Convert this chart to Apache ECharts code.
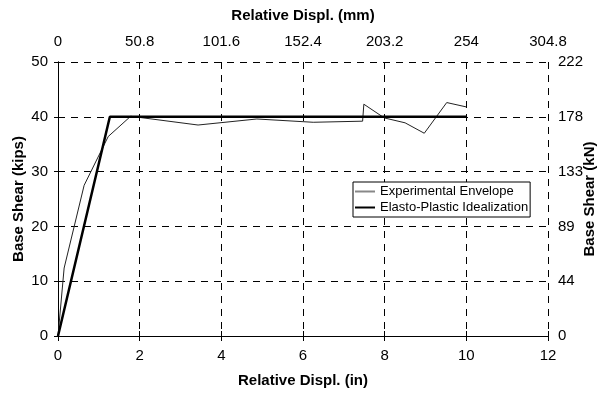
<!DOCTYPE html>
<html>
<head>
<meta charset="utf-8">
<script src="https://cdn.jsdelivr.net/npm/echarts@6/dist/echarts.min.js"></script>
<style>
  html, body { margin: 0; padding: 0; background: #fff; }
  #chart { width: 606px; height: 393px; }
</style>
</head>
<body>
<div id="chart"></div>
<script>
// displacement (in) vs base shear (kips)
const expDispl = [0, 0.15, 0.64, 1.23, 1.78, 3.43, 4.87, 6.25, 7.46, 7.49, 7.99, 8.5, 8.97, 9.52, 10.0];
const expShear = [0, 12.4, 27.5, 36.4, 40.1, 38.5, 39.6, 39.0, 39.2, 42.3, 39.8, 38.9, 37.0, 42.6, 41.8];
const epDispl = [0, 1.27, 10];
const epShear = [0, 40, 40];

const KN_PER_KIP = 4.4482;
const MM_PER_IN = 25.4;

const font = "Liberation Sans, Arial, sans-serif";
const dashed = { show: true, lineStyle: { color: "#000", type: [7, 6], width: 1 } };
const axisLine = { show: true, lineStyle: { color: "#000", width: 1 } };
const labelStyle = { color: "#000", fontSize: 15, fontFamily: font };
const nameStyle = { color: "#000", fontSize: 15, fontWeight: "bold", fontFamily: font };

const chart = echarts.init(document.getElementById("chart"));
chart.setOption({
  backgroundColor: "#fff",
  animation: false,
  grid: { left: 58, right: 58, top: 62, bottom: 57, outerBoundsMode: "none" },
  legend: {
    left: 353,
    top: 182,
    orient: "vertical",
    icon: "rect",
    backgroundColor: "#fff",
    borderColor: "#000",
    borderWidth: 1,
    borderRadius: 0,
    padding: [3, 2, 3, 2],
    itemGap: 3,
    itemWidth: 20,
    itemHeight: 2,
    textStyle: { color: "#000", fontSize: 13, fontFamily: font },
    data: ["Experimental Envelope", "Elasto-Plastic Idealization"],
  },
  xAxis: [
    {
      type: "value",
      min: 0,
      max: 12,
      interval: 2,
      name: "Relative Displ. (in)",
      nameLocation: "middle",
      nameGap: 37,
      nameTextStyle: nameStyle,
      axisLine: axisLine,
      axisTick: { show: true, inside: true, length: 5, lineStyle: { color: "#000" } },
      axisLabel: { ...labelStyle, margin: 12 },
      splitLine: dashed,
    },
    {
      type: "value",
      position: "top",
      min: 0,
      max: 12 * MM_PER_IN,
      interval: 2 * MM_PER_IN,
      name: "Relative Displ. (mm)",
      nameLocation: "middle",
      nameGap: 39,
      nameTextStyle: nameStyle,
      axisLine: axisLine,
      axisTick: { show: true, inside: true, length: 5, lineStyle: { color: "#000" } },
      axisLabel: { ...labelStyle, margin: 13, formatter: (v) => String(Math.round(v * 10) / 10) },
      splitLine: { show: false },
    },
  ],
  yAxis: [
    {
      type: "value",
      min: 0,
      max: 50,
      interval: 10,
      name: "Base Shear (kips)",
      nameLocation: "middle",
      nameGap: 32,
      nameMoveOverlap: false,
      nameTextStyle: nameStyle,
      axisLine: axisLine,
      axisTick: { show: true, length: 4, lineStyle: { color: "#000" } },
      axisLabel: { ...labelStyle, margin: 10 },
      splitLine: dashed,
    },
    {
      type: "value",
      position: "right",
      min: 0,
      max: 50 * KN_PER_KIP,
      interval: 10 * KN_PER_KIP,
      name: "Base Shear (kN)",
      nameLocation: "middle",
      nameGap: 34,
      nameRotate: 90,
      nameMoveOverlap: false,
      nameTextStyle: nameStyle,
      axisLine: axisLine,
      axisTick: { show: true, length: 4, lineStyle: { color: "#000" } },
      axisLabel: { ...labelStyle, margin: 10, formatter: (v) => String(Math.round(v)) },
      splitLine: { show: false },
    },
  ],
  series: [
    {
      name: "Experimental Envelope",
      type: "line",
      symbol: "none",
      data: expDispl.map((x, i) => [x, expShear[i]]),
      lineStyle: { color: "#222", width: 1 },
      itemStyle: { color: "#888" },
    },
    {
      name: "Elasto-Plastic Idealization",
      type: "line",
      symbol: "none",
      data: epDispl.map((x, i) => [x, epShear[i]]),
      lineStyle: { color: "#000", width: 2.5 },
      itemStyle: { color: "#000" },
    },
  ],
});
</script>
</body>
</html>
